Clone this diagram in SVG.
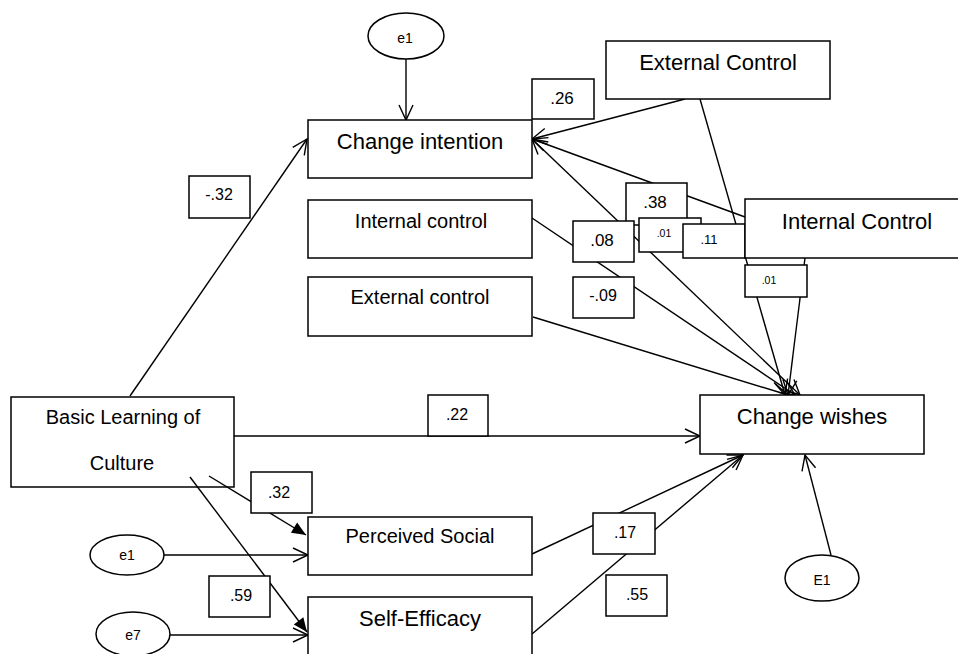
<svg xmlns="http://www.w3.org/2000/svg" width="958" height="654" viewBox="0 0 958 654">
<style>
.box{fill:#fff;stroke:#000;stroke-width:1.5}
.ell{fill:#fff;stroke:#000;stroke-width:1.5}
.ln{fill:none;stroke:#000;stroke-width:1.4}
.t{font-family:"Liberation Sans",Arial,sans-serif;fill:#000;text-anchor:middle}
.big{font-size:22px}
.mid{font-size:20px}
.lab{font-size:17px}
.num{font-size:16px}
.sm{font-size:14px}
.s13{font-size:13px}
.xs{font-size:10.5px}
</style>
<defs>
<marker id="open" viewBox="-16 -9 18 18" refX="0" refY="0" markerWidth="18" markerHeight="18" markerUnits="userSpaceOnUse" orient="auto-start-reverse">
<path d="M-15,-7 L0,0 L-15,7" fill="none" stroke="#000" stroke-width="1.4"/>
</marker>
<marker id="solid" viewBox="-16 -9 18 18" refX="0" refY="0" markerWidth="18" markerHeight="18" markerUnits="userSpaceOnUse" orient="auto">
<path d="M-14,-6 L0,0 L-14,6 Z" fill="#000"/>
</marker>
</defs>
<rect width="958" height="654" fill="#fff"/>

<g id="basic-learning">
<rect x="11" y="397" width="223" height="90" fill="#fff" stroke="#000" stroke-width="1.5"/>
<text class="t mid" x="123" y="424">Basic Learning of</text>
<text class="t mid" x="122" y="470">Culture</text>
</g>

<g id="connectors">
<line class="ln" x1="130" y1="396" x2="307" y2="139" marker-end="url(#open)"/>
<line class="ln" x1="406" y1="59" x2="406" y2="120" marker-end="url(#open)"/>
<line class="ln" x1="685" y1="99" x2="532" y2="139" marker-end="url(#open)"/>
<line class="ln" x1="745" y1="217" x2="532" y2="139" marker-end="url(#open)"/>
<line class="ln" x1="800" y1="395" x2="532" y2="139" marker-start="url(#open)" marker-end="url(#open)"/>
<line class="ln" x1="532" y1="218" x2="795" y2="395" marker-end="url(#open)"/>
<line class="ln" x1="533" y1="317" x2="788" y2="395" marker-end="url(#open)"/>
<line class="ln" x1="700" y1="99" x2="785" y2="395" marker-end="url(#open)"/>
<line class="ln" x1="805" y1="258" x2="788" y2="395" marker-end="url(#open)"/>
<line class="ln" x1="234" y1="436" x2="700" y2="436" marker-end="url(#open)"/>
<line class="ln" x1="209" y1="476" x2="306" y2="535" marker-end="url(#solid)"/>
<line class="ln" x1="190" y1="477" x2="307" y2="632" marker-end="url(#solid)"/>
<line class="ln" x1="164" y1="555" x2="308" y2="555" marker-end="url(#open)"/>
<line class="ln" x1="170" y1="635" x2="308" y2="635" marker-end="url(#open)"/>
<line class="ln" x1="532" y1="554" x2="743" y2="455" marker-end="url(#open)"/>
<line class="ln" x1="532" y1="634" x2="743" y2="455" marker-end="url(#open)"/>
<line class="ln" x1="831" y1="555" x2="805" y2="455" marker-end="url(#open)"/>
</g>

<g id="e1-top"><ellipse class="ell" cx="406" cy="36" rx="38" ry="23"/><text class="t sm" x="405" y="43">e1</text></g>
<g id="change-intention"><rect class="box" x="308" y="120" width="224" height="58"/><text class="t big" x="420" y="149">Change intention</text></g>
<g id="internal-control-left"><rect class="box" x="308" y="200" width="224" height="58"/><text class="t mid" x="421" y="228">Internal control</text></g>
<g id="external-control-left"><rect class="box" x="308" y="277" width="224" height="59"/><text class="t mid" x="420" y="304">External control</text></g>
<g id="external-control-top"><rect class="box" x="606" y="41" width="224" height="58"/><text class="t big" x="718" y="70">External Control</text></g>

<g id="lbl-m32"><rect class="box" x="189" y="176" width="61" height="42"/><text class="t num" x="219" y="200">-.32</text></g>
<g id="lbl-26"><rect class="box" x="532" y="79" width="62" height="40"/><text class="t lab" x="562" y="104">.26</text></g>
<g id="lbl-38"><rect class="box" x="626" y="183" width="61" height="42"/><text class="t lab" x="655" y="208">.38</text></g>
<g id="lbl-08"><rect class="box" x="573" y="221" width="61" height="41"/><text class="t lab" x="602" y="246">.08</text></g>
<g id="lbl-01a"><rect class="box" x="639" y="218" width="62" height="34"/><text class="t xs" x="664" y="237">.01</text></g>
<g id="lbl-11"><rect class="box" x="683" y="224" width="62" height="34"/><text class="t s13" x="709" y="244">.11</text></g>
<g id="internal-control-right"><rect class="box" x="745" y="199" width="224" height="59"/><text class="t big" x="857" y="229">Internal Control</text></g>
<g id="lbl-01b"><rect class="box" x="745" y="265" width="62" height="32"/><text class="t xs" x="769" y="284">.01</text></g>
<g id="lbl-m09"><rect class="box" x="573" y="277" width="61" height="41"/><text class="t num" x="603" y="301">-.09</text></g>

<g id="lbl-22"><rect class="box" x="428" y="395" width="60" height="41"/><text class="t num" x="457" y="420">.22</text></g>
<g id="change-wishes"><rect class="box" x="700" y="395" width="224" height="59"/><text class="t big" x="812" y="424">Change wishes</text></g>
<g id="lbl-32"><rect class="box" x="251" y="472" width="61" height="41"/><text class="t num" x="279" y="498">.32</text></g>
<g id="perceived-social"><rect class="box" x="308" y="517" width="224" height="58"/><text class="t mid" x="420" y="543">Perceived Social</text></g>
<g id="self-efficacy"><rect class="box" x="308" y="597" width="224" height="70"/><text class="t big" x="420" y="626">Self-Efficacy</text></g>
<g id="lbl-59"><rect class="box" x="209" y="576" width="61" height="41"/><text class="t num" x="241" y="601">.59</text></g>
<g id="lbl-17"><rect class="box" x="593" y="513" width="62" height="41"/><text class="t num" x="625" y="538">.17</text></g>
<g id="lbl-55"><rect class="box" x="606" y="575" width="61" height="41"/><text class="t num" x="637" y="600">.55</text></g>
<g id="e1-bottom"><ellipse class="ell" cx="127" cy="555" rx="37" ry="20"/><text class="t sm" x="127" y="560">e1</text></g>
<g id="e7"><ellipse class="ell" cx="133" cy="634" rx="37" ry="22"/><text class="t sm" x="133" y="640">e7</text></g>
<g id="E1"><ellipse class="ell" cx="822" cy="578" rx="37" ry="23"/><text class="t sm" x="822" y="585">E1</text></g>
</svg>
